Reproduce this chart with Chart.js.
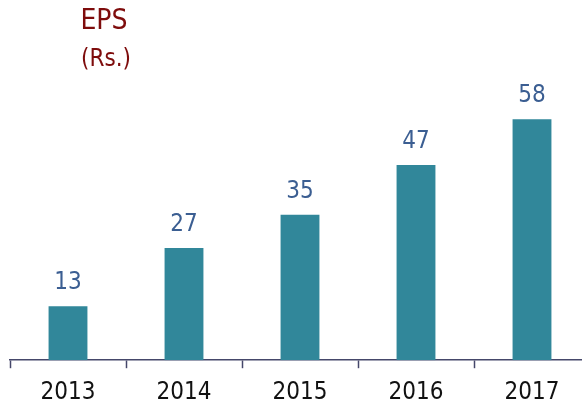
<!DOCTYPE html>
<html>
<head>
<meta charset="utf-8">
<script src="https://cdn.jsdelivr.net/npm/chart.js@4"></script>
<style>
  html, body { margin: 0; padding: 0; background: #fff; overflow: hidden; }
  #wrap { position: relative; width: 600px; height: 406px; overflow: hidden; }
  .ttl { position: absolute; width: 100px; text-align: center; line-height: 1; color: #7E0C0C; font-family: "DejaVu Sans Condensed", "DejaVu Sans", sans-serif; }
  #t1 { left: 54px; top: 6px; font-size: 28px; }
  #t2 { left: 56px; top: 46px; font-size: 24px; }
</style>
</head>
<body>
<div id="wrap">
  <canvas id="eps-chart" width="600" height="417"></canvas>
  <div class="ttl" id="t1">EPS</div>
  <div class="ttl" id="t2">(Rs.)</div>
</div>
<script>
const years = ["2013", "2014", "2015", "2016", "2017"];
const eps = [13, 27, 35, 47, 58];

const axisColor = "#45476A";
const fontFamily = "'DejaVu Sans Condensed', 'DejaVu Sans', sans-serif";

// draws the value over each bar
const valueLabels = {
    id: "valueLabels",
    afterDatasetsDraw(chart) {
        const ctx = chart.ctx;
        const meta = chart.getDatasetMeta(0);
        ctx.save();
        ctx.font = "24px " + fontFamily;
        ctx.fillStyle = "#3B5E92";
        ctx.textAlign = "center";
        ctx.textBaseline = "alphabetic";
        meta.data.forEach((bar, i) => {
            ctx.fillText(eps[i], bar.x, bar.y - 17);
        });
        ctx.restore();
    }
};

new Chart(document.getElementById("eps-chart"), {
    type: "bar",
    data: {
        labels: years,
        datasets: [{
            label: "EPS",
            data: eps,
            backgroundColor: "#31879A",
            borderWidth: 0,
            barPercentage: 0.335,
            categoryPercentage: 1
        }]
    },
    options: {
        responsive: false,
        animation: false,
        layout: { padding: { left: 10, right: 10, top: 28, bottom: 0 } },
        plugins: {
            legend: { display: false },
            tooltip: { enabled: false }
        },
        scales: {
            x: {
                offset: true,
                grid: {
                    display: true,
                    drawOnChartArea: false,
                    drawTicks: true,
                    tickLength: 8,
                    tickWidth: 1.5,
                    color: axisColor
                },
                border: { display: true, color: axisColor, width: 1.5 },
                ticks: {
                    color: "#111",
                    padding: 10,
                    font: { family: fontFamily, size: 24 }
                }
            },
            y: {
                display: false,
                min: 0,
                max: 80
            }
        }
    },
    plugins: [valueLabels]
});
</script>
</body>
</html>
